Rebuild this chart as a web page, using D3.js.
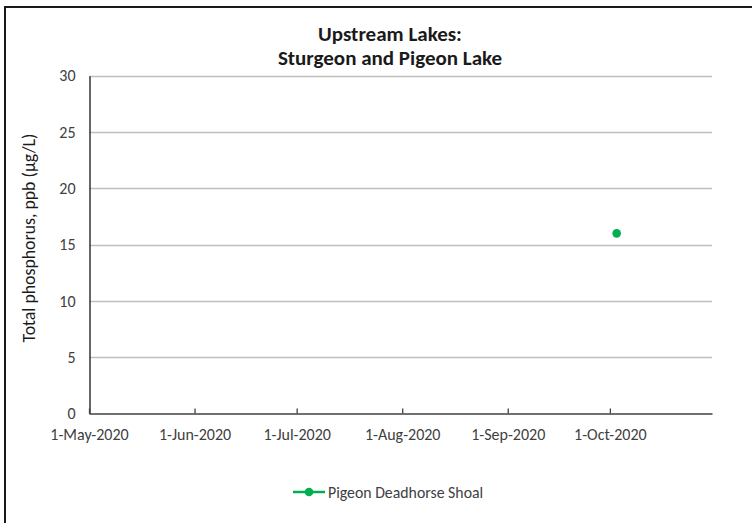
<!DOCTYPE html>
<html>
<head>
<meta charset="utf-8">
<script src="https://cdn.jsdelivr.net/npm/d3@7"></script>
<style>
  html, body { margin: 0; padding: 0; background: #fff; }
  svg { display: block; }
  text { font-family: Carlito, "Liberation Sans Narrow", "Open Sans", sans-serif; }
</style>
</head>
<body>
<div id="chart"></div>
<script>
const titleLines = ["Upstream Lakes:", "Sturgeon and Pigeon Lake"];
const yLabel = "Total phosphorus, ppb (µg/L)";
const seriesName = "Pigeon Deadhorse Shoal";
const sampleDates = ["2020-10-03"];
const sampleValues = [16];
const xTickDates = ["2020-05-01", "2020-06-01", "2020-07-01", "2020-08-01", "2020-09-01", "2020-10-01"];
const yTickValues = [0, 5, 10, 15, 20, 25, 30];
const xDomain = ["2020-05-01", "2020-10-31"];
const yDomain = [0, 30];

const W = 752, H = 523;
const parse = d3.utcParse("%Y-%m-%d");
const fmt = d3.utcFormat("%-d-%b-%Y");
const green = "#00b050";

const svg = d3.select("#chart").append("svg").attr("width", W).attr("height", H);
svg.append("rect").attr("width", W).attr("height", H).attr("fill", "#fff");
// outer frame
svg.append("path").attr("d", "M5,530V7H760").attr("fill", "none").attr("stroke", "#1a1a1a").attr("stroke-width", 2);

const x = d3.scaleUtc().domain(xDomain.map(parse)).range([89, 712]);
const y = d3.scaleLinear().domain(yDomain).range([413.5, 75.7]);

// gridlines
svg.append("g").selectAll("line").data(yTickValues.filter(v => v > 0)).join("line")
  .attr("x1", 89).attr("x2", 712)
  .attr("y1", d => Math.round(y(d)) + 0.5).attr("y2", d => Math.round(y(d)) + 0.5)
  .attr("stroke", "#bfbfbf").attr("stroke-width", 1.3);

// y axis
const yAxis = svg.append("g").attr("transform", "translate(89.5,0)")
  .call(d3.axisLeft(y).tickValues(yTickValues).tickSize(0).tickPadding(14));
yAxis.select(".domain").attr("stroke", "#404040").attr("stroke-width", 1.6);
yAxis.selectAll("text").attr("font-size", 16).attr("fill", "#404040");

// x axis
const xAxis = svg.append("g").attr("transform", "translate(0,413.5)")
  .call(d3.axisBottom(x).tickValues(xTickDates.map(parse)).tickFormat(fmt).tickSizeInner(-5).tickSizeOuter(0).tickPadding(15));
xAxis.select(".domain").attr("stroke", "#404040").attr("stroke-width", 1.6);
xAxis.selectAll(".tick line").attr("stroke", "#404040").attr("stroke-width", 1.3);
xAxis.selectAll("text").attr("font-size", 16).attr("fill", "#404040");

// title
svg.append("g").selectAll("text").data(titleLines).join("text")
  .attr("x", 390).attr("y", (d, i) => 41 + i * 24)
  .attr("text-anchor", "middle").attr("font-weight", "bold").attr("font-size", 21)
  .attr("fill", "#1a1a1a").text(d => d);

// y label
svg.append("text").attr("transform", "translate(35,238) rotate(-90)")
  .attr("text-anchor", "middle").attr("font-size", 17.8).attr("fill", "#1a1a1a").text(yLabel);

// data
const pts = sampleDates.map((d, i) => ({ date: parse(d), value: sampleValues[i] }));
svg.append("path").datum(pts)
  .attr("d", d3.line().x(d => x(d.date)).y(d => y(d.value)))
  .attr("fill", "none").attr("stroke", green).attr("stroke-width", 2.5);
svg.append("g").selectAll("circle").data(pts).join("circle")
  .attr("cx", d => x(d.date)).attr("cy", d => y(d.value)).attr("r", 4.3).attr("fill", green);

// legend
const lg = svg.append("g").attr("transform", "translate(293,492)");
lg.append("line").attr("x1", 0).attr("x2", 32).attr("stroke", green).attr("stroke-width", 2.5);
lg.append("circle").attr("cx", 16).attr("r", 4.3).attr("fill", green);
lg.append("text").attr("x", 35).attr("dy", "0.35em").attr("font-size", 15.8).attr("fill", "#404040").text(seriesName);
</script>
</body>
</html>
